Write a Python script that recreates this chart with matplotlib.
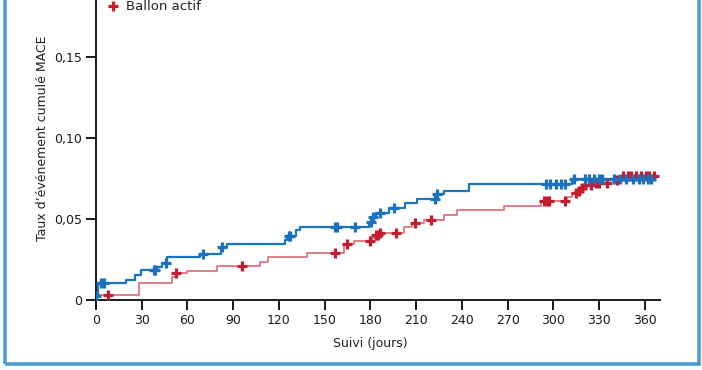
import numpy as np
import matplotlib
matplotlib.use("Agg")
import matplotlib.pyplot as plt
from matplotlib.lines import Line2D
from matplotlib.patches import Rectangle

# ---- data ----
blue_times = [0, 1, 20, 25.6, 29.4, 40, 43, 46.4, 68.3, 82, 86, 124, 125.4, 131, 134,
              179, 181, 184, 192, 203, 210.7, 223.8, 228, 244.6, 312.5]
blue_levels = [0.0025, 0.0103, 0.0123, 0.0154, 0.0185, 0.0206, 0.023, 0.0265, 0.0287,
               0.0325, 0.0344, 0.037, 0.0395, 0.0432, 0.0453, 0.0484, 0.051, 0.054,
               0.0566, 0.0597, 0.0621, 0.0652, 0.0675, 0.0714, 0.0745]
blue_end = 367
blue_censor = [0, 3, 5, 38, 39, 46, 70.5, 82.6, 126.4, 127.5, 157, 158, 170, 180.5, 182,
               186.6, 195.4, 222.7, 224, 295, 298, 301.6, 305.3, 308, 313.6, 321, 323.5,
               326.7, 330, 332, 340, 344, 348, 352, 356, 359, 362, 364]

red_times = [0, 28.5, 49.7, 52.5, 59.6, 79.3, 107.3, 112.8, 138.4, 162.5, 169, 181, 183,
             186, 202, 207.4, 215, 228, 236.5, 267.6, 292, 309, 312.5, 315, 318, 321,
             325, 336, 344]
red_levels = [0.003, 0.0107, 0.0145, 0.0165, 0.0179, 0.021, 0.0237, 0.0268, 0.0288,
              0.0344, 0.0366, 0.038, 0.040, 0.0415, 0.045, 0.0477, 0.0494, 0.0525,
              0.0556, 0.058, 0.0613, 0.0638, 0.066, 0.0675, 0.069, 0.071, 0.0725,
              0.074, 0.0765]
red_end = 369
red_censor = [8, 52.6, 95.7, 157, 164.7, 180, 184, 185, 186, 196.5, 209.6, 220, 294, 296,
              297, 308, 314.7, 316.7, 319, 321, 324.6, 327.8, 330, 335, 342, 345.6, 349,
              351, 354, 357.4, 360.7, 362.7, 366]

x_ticks = [0, 30, 60, 90, 120, 150, 180, 210, 240, 270, 300, 330, 360]
y_ticks = [0, 0.05, 0.10, 0.15]
y_ticklabels = ["0", "0,05", "0,10", "0,15"]
legend_label = "Ballon actif"
xlabel = "Suivi (jours)"
ylabel = "Taux d\u2019événement cumulé MACE"

BLUE_LINE = "#1b76c2"
BLUE_MARK = "#1a72bf"
RED_LINE = "#dc6a74"
RED_MARK = "#c41d30"

plt.rcParams['font.family'] = ['DejaVu Sans']

W, H = 702, 370
fig = plt.figure(figsize=(W / 100, H / 100), dpi=100)
fig.patch.set_facecolor("white")

ax_l, ax_r, ax_b, ax_t = 96, 660, 300, -24
ax = fig.add_axes([ax_l / W, (H - ax_b) / H, (ax_r - ax_l) / W, (ax_b - ax_t) / H])
ax.set_xlim(0, 370)
ax.set_ylim(0, 0.2)


def level_at(times, levels, t):
    idx = np.searchsorted(np.asarray(times), t, side="right") - 1
    return np.asarray(levels)[np.clip(idx, 0, len(levels) - 1)]


for times, levels, end, cens, lc, mc, lw in [
    (red_times, red_levels, red_end, red_censor, RED_LINE, RED_MARK, 1.2),
    (blue_times, blue_levels, blue_end, blue_censor, BLUE_LINE, BLUE_MARK, 1.6),
]:
    tx = list(times) + [end]
    ly = list(levels) + [levels[-1]]
    ax.step(tx, ly, where="post", color=lc, lw=lw, zorder=3)
    cy = level_at(times, levels, np.asarray(cens))
    ax.plot(cens, cy, linestyle="none", marker="+", ms=7.5, mew=2.3, color=mc, zorder=4)

for s in ["top", "right"]:
    ax.spines[s].set_visible(False)
for s in ["left", "bottom"]:
    ax.spines[s].set_linewidth(1.4)
    ax.spines[s].set_color("#1a1a1a")

ax.set_xticks(x_ticks)
ax.set_yticks(y_ticks)
ax.set_yticklabels(y_ticklabels)
ax.tick_params(axis="both", direction="out", length=7, width=1.4, colors="#1a1a1a",
               labelsize=9, pad=3)

ax.set_xlabel(xlabel, fontsize=9, color="#222222")
ax.xaxis.set_label_coords((370 - ax_l) / (ax_r - ax_l), -(343 - ax_b) / (ax_b - ax_t))
ax.xaxis.label.set_va("center")
ax.set_ylabel(ylabel, fontsize=9, color="#222222")
ax.yaxis.set_label_coords(-(96 - 42) / (ax_r - ax_l), 0.5)
ax.yaxis.label.set_va("center")

handle = Line2D([], [], linestyle="none", marker="+", ms=7.5, mew=2.3, color=RED_MARK)
fig.legend([handle], [legend_label], loc="center left", frameon=False,
           bbox_to_anchor=(106 / W, (H - 7) / H), handlelength=1.0, handletextpad=0.5,
           borderpad=0, borderaxespad=0, fontsize=9.5, labelcolor="#222222")

fig.patches.append(Rectangle((4.5 / W, 6.5 / H), (698.5 - 4.5) / W, 1.2,
                             transform=fig.transFigure, fill=False,
                             edgecolor="#4b9cd6", lw=2.6, clip_on=False))

fig.savefig("out.png", dpi=100, facecolor="white")
